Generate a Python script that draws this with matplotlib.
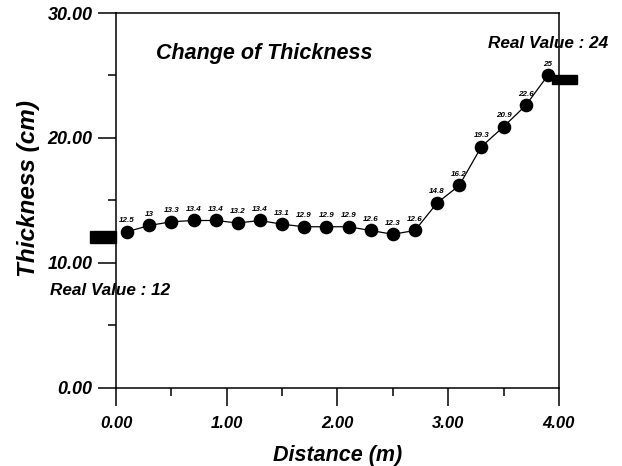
import matplotlib
matplotlib.use("Agg")
import matplotlib.pyplot as plt
from matplotlib.patches import Rectangle
from matplotlib.ticker import MultipleLocator, FormatStrFormatter

# distance along the specimen (m) and measured thickness (cm)
distance = [0.1, 0.3, 0.5, 0.7, 0.9, 1.1, 1.3, 1.5, 1.7, 1.9,
            2.1, 2.3, 2.5, 2.7, 2.9, 3.1, 3.3, 3.5, 3.7, 3.9]
thickness = [12.5, 13, 13.3, 13.4, 13.4, 13.2, 13.4, 13.1, 12.9, 12.9,
             12.9, 12.6, 12.3, 12.6, 14.8, 16.2, 19.3, 20.9, 22.6, 25]

# real values shown at both ends
real_values = [12, 24]
real_marks = [12.07, 24.65]   # where the black bars sit in the picture

plt.rcParams["font.family"] = ["Liberation Sans", "DejaVu Sans"]
fw = dict(weight="bold", style="italic")

fig = plt.figure(figsize=(6.22, 4.66), dpi=100)
ax = fig.add_axes([0.1865, 0.1674, 0.712, 0.8047])

ax.plot(distance, thickness, color="black", lw=0.9, marker="o",
        markersize=8.8, markerfacecolor="black", markeredgecolor="black")

for x, y in zip(distance, thickness):
    ax.annotate(f"{y:g}", (x, y), xytext=(0, 8), textcoords="offset points",
                ha="center", va="center", fontsize=5.8, **fw)

# real value bars, drawn just outside the axes
ax.add_patch(Rectangle((-0.235, real_marks[0] - 0.48), 0.235, 0.96,
                       color="black", clip_on=False, zorder=3))
ax.add_patch(Rectangle((3.94, real_marks[1] - 0.36), 0.22, 0.72,
                       color="black", clip_on=False, zorder=3))

ax.text(1.34, 26.8, "Change of Thickness", ha="center", va="center",
        fontsize=15.5, **fw)
ax.text(3.9, 27.6, f"Real Value : {real_values[1]}", ha="center",
        va="center", fontsize=12.3, **fw)
ax.text(-0.05, 7.8, f"Real Value : {real_values[0]}", ha="center",
        va="center", fontsize=12.3, clip_on=False, **fw)

ax.set_xlim(0, 4)
ax.set_ylim(0, 30)
ax.xaxis.set_major_locator(MultipleLocator(1))
ax.xaxis.set_minor_locator(MultipleLocator(0.5))
ax.yaxis.set_major_locator(MultipleLocator(10))
ax.yaxis.set_minor_locator(MultipleLocator(5))
ax.xaxis.set_major_formatter(FormatStrFormatter("%.2f"))
ax.yaxis.set_major_formatter(FormatStrFormatter("%.2f"))

ax.tick_params(which="major", direction="out", length=13, width=1.1)
ax.tick_params(which="minor", direction="out", length=6, width=1.1)
ax.tick_params(axis="x", which="major", pad=7)
ax.tick_params(axis="y", which="major", pad=4)
for lab in ax.get_xticklabels():
    lab.set_fontsize(12)
    lab.set_fontweight("bold")
    lab.set_fontstyle("italic")
for lab in ax.get_yticklabels():
    lab.set_fontsize(13)
    lab.set_fontweight("bold")
    lab.set_fontstyle("italic")

for sp in ax.spines.values():
    sp.set_linewidth(1.1)

ax.set_xlabel("Distance (m)", fontsize=15.5, labelpad=10, **fw)
ax.set_ylabel("Thickness (cm)", fontsize=17.5, **fw)
ax.yaxis.set_label_coords(-0.172, 0.533)

fig.savefig("out.png", dpi=100)
